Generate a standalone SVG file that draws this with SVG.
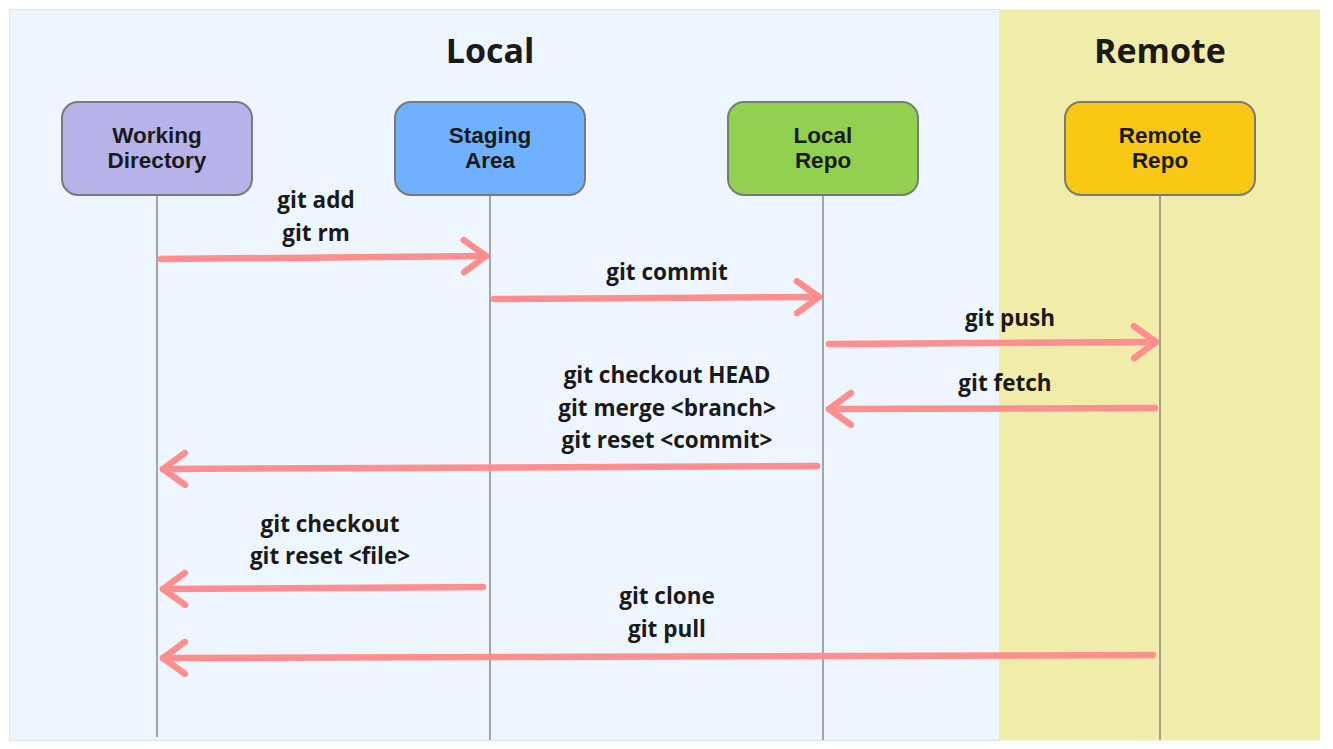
<svg xmlns="http://www.w3.org/2000/svg" width="1333" height="749" viewBox="0 0 1333 749">
<style>
.title{font-family:"Open Sans","Noto Sans",sans-serif;font-weight:700;font-size:34px;fill:#1a1a1a;text-anchor:middle}
.ntext{font-family:"Liberation Sans",Arial,sans-serif;font-weight:700;font-size:22.5px;fill:#1a1a1a;text-anchor:middle}
.lbl{font-family:"Open Sans","Noto Sans",sans-serif;font-weight:700;font-size:22.5px;fill:#1a1a1a;text-anchor:middle}
.node{stroke:#7a7a7a;stroke-width:2}
.life{stroke:#8a8a8a;stroke-width:1.5;fill:none}
.arr{stroke:#FF8F8F;stroke-width:6.5;fill:none;stroke-linecap:round;marker-end:url(#head)}
</style>
<defs>
<marker id="head" markerUnits="userSpaceOnUse" viewBox="-30 -22 34 44" refX="0" refY="0" markerWidth="34" markerHeight="44" orient="auto">
<path d="M-22 -16 L0 0 L-22 16" fill="none" stroke="#FF8F8F" stroke-width="6.5" stroke-linecap="round" stroke-linejoin="round"/>
</marker>
</defs>
<rect x="0" y="0" width="1333" height="749" fill="#ffffff"/>
<g id="panel-local">
<rect x="9.5" y="9.5" width="990" height="731" fill="#EDF5FE" stroke="#dde3ea" stroke-width="1"/>
<text class="title" x="490" y="63">Local</text>
</g>
<g id="panel-remote">
<rect x="999" y="9.5" width="321" height="731" fill="#F0ECA9"/>
<text class="title" x="1160" y="63">Remote</text>
</g>
<g id="lifelines">
<line class="life" x1="157" y1="196" x2="157" y2="737"/>
<line class="life" x1="490" y1="196" x2="490" y2="740"/>
<line class="life" x1="823" y1="196" x2="823" y2="740"/>
<line class="life" x1="1160" y1="196" x2="1160" y2="740"/>
</g>
<g id="working-directory">
<rect class="node" x="62" y="102" width="190" height="93" rx="16" fill="#B7B3E8"/>
<text class="ntext" x="157" y="143">Working</text>
<text class="ntext" x="157" y="168">Directory</text>
</g>
<g id="staging-area">
<rect class="node" x="395" y="102" width="190" height="93" rx="16" fill="#6FB1FF"/>
<text class="ntext" x="490" y="143">Staging</text>
<text class="ntext" x="490" y="168">Area</text>
</g>
<g id="local-repo">
<rect class="node" x="728" y="102" width="190" height="93" rx="16" fill="#92D050"/>
<text class="ntext" x="823" y="143">Local</text>
<text class="ntext" x="823" y="168">Repo</text>
</g>
<g id="remote-repo">
<rect class="node" x="1065" y="102" width="190" height="93" rx="16" fill="#F8C814"/>
<text class="ntext" x="1160" y="143">Remote</text>
<text class="ntext" x="1160" y="168">Repo</text>
</g>
<g id="connectors">
<path class="arr" d="M161 259 L486 256"/>
<path class="arr" d="M494 299 L819 297"/>
<path class="arr" d="M829 344 L1156 342"/>
<path class="arr" d="M1155 408 L829 409"/>
<path class="arr" d="M817 466 L163 469"/>
<path class="arr" d="M483 587 L163 589"/>
<path class="arr" d="M1153 655 L163 658"/>
</g>
<g id="labels">
<text class="lbl" x="316" y="208">git add</text>
<text class="lbl" x="316" y="241">git rm</text>
<text class="lbl" x="667" y="280">git commit</text>
<text class="lbl" x="1010" y="326">git push</text>
<text class="lbl" x="1005" y="391">git fetch</text>
<text class="lbl" x="667" y="383">git checkout HEAD</text>
<text class="lbl" x="667" y="416">git merge &lt;branch&gt;</text>
<text class="lbl" x="667" y="448">git reset &lt;commit&gt;</text>
<text class="lbl" x="330" y="532">git checkout</text>
<text class="lbl" x="330" y="564">git reset &lt;file&gt;</text>
<text class="lbl" x="667" y="604">git clone</text>
<text class="lbl" x="667" y="637">git pull</text>
</g>
</svg>
